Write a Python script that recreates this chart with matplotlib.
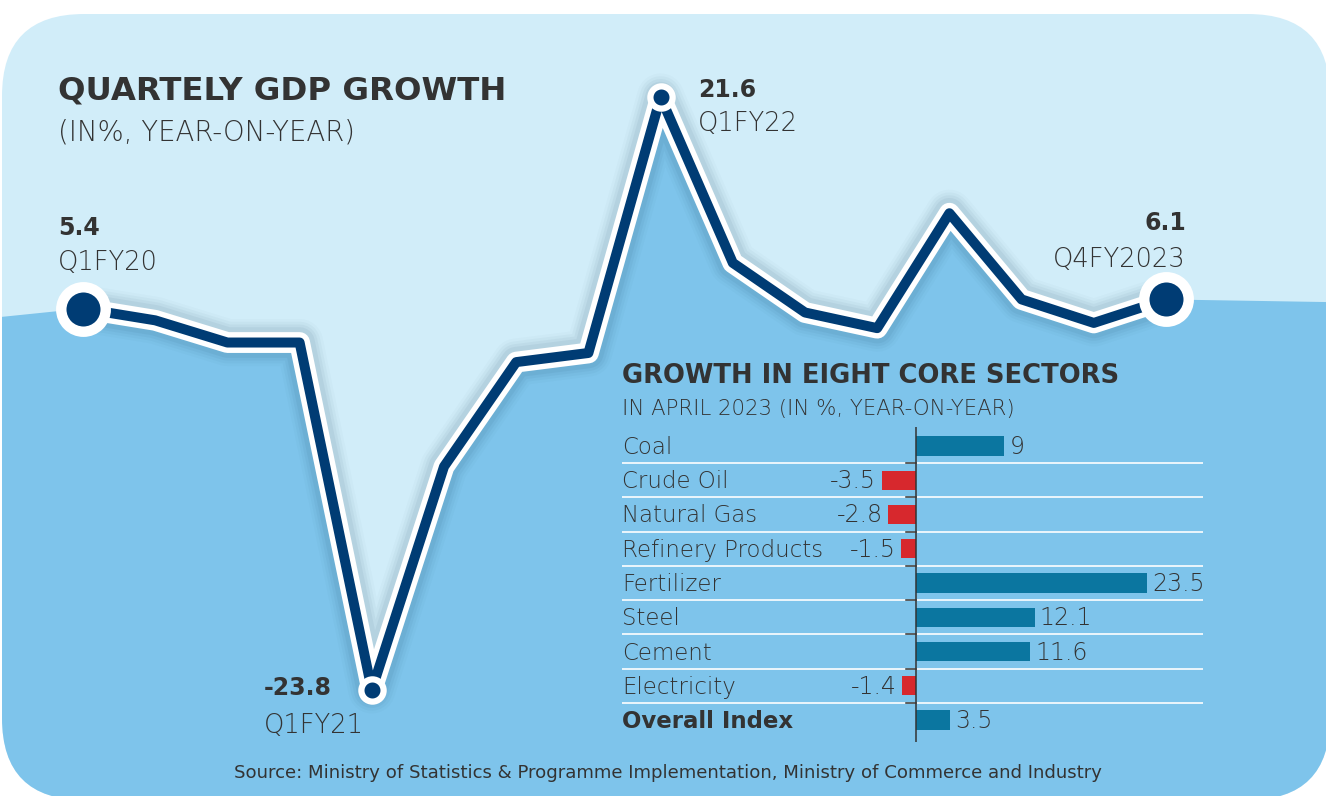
import matplotlib
matplotlib.use("Agg")
import matplotlib.pyplot as plt
from matplotlib.patches import FancyBboxPatch
from matplotlib.transforms import IdentityTransform, blended_transform_factory

# ---------------- data ----------------
quarters = ["Q1FY20", "Q2FY20", "Q3FY20", "Q4FY20", "Q1FY21", "Q2FY21", "Q3FY21", "Q4FY21",
            "Q1FY22", "Q2FY22", "Q3FY22", "Q4FY22", "Q1FY23", "Q2FY23", "Q3FY23", "Q4FY2023"]
gdp_growth = [5.4, 4.5, 2.8, 2.8, -23.8, -6.7, 1.3, 2.0, 21.6, 8.9, 5.1, 3.9, 12.7, 6.1, 4.3, 6.1]
labelled_idx = [0, 4, 8, 15]

sectors = ["Coal", "Crude Oil", "Natural Gas", "Refinery Products", "Fertilizer",
           "Steel", "Cement", "Electricity", "Overall Index"]
sector_growth = [9, -3.5, -2.8, -1.5, 23.5, 12.1, 11.6, -1.4, 3.5]

title = "QUARTELY GDP GROWTH"
subtitle = "(IN%, YEAR-ON-YEAR)"
inset_title = "GROWTH IN EIGHT CORE SECTORS"
inset_subtitle = "IN APRIL 2023 (IN %, YEAR-ON-YEAR)"
source = "Source: Ministry of Statistics & Programme Implementation, Ministry of Commerce and Industry"

# background split level (value on the GDP scale at left / right edges)
horizon_left, horizon_right = 4.75, 5.9

# ---------------- style ----------------
LIGHT = "#d1edf9"
MEDIUM = "#7ec4eb"
NAVY = "#003c74"
TEAL = "#0b76a0"
RED = "#d7282d"
TXT = "#333333"
FONT = ["DejaVu Sans"]
plt.rcParams["font.family"] = FONT

W, H = 1326, 796
fig = plt.figure(figsize=(W / 100, H / 100), dpi=100)
fig.patch.set_facecolor("white")

def fx(px):
    return px / W

def fy(py):
    return 1 - py / H

bg = FancyBboxPatch((2, -4), W + 2, H - 14 + 4, boxstyle="round,pad=0,rounding_size=82",
                    transform=IdentityTransform(), fc=LIGHT, ec="none", zorder=-5)
fig.add_artist(bg)

# ---------------- main line chart ----------------
ax = fig.add_axes([0, 0, 1, 1])
ax.patch.set_visible(False)
ax.axis("off")
step = 72.2            # px per quarter
scale = 13.06          # px per percentage point
x0_px, ytop_val, ytop_px = 83, 21.6, 97
ax.set_xlim(-x0_px / step, 15 + (W - 1166) / step)
ax.set_ylim(ytop_val - (H - ytop_px) / scale, ytop_val + ytop_px / scale)
xl = ax.get_xlim()
yl = ax.get_ylim()
xs = list(range(len(gdp_growth)))

fill_x = [xl[0]] + xs + [xl[1]]
fill_y = [horizon_left] + gdp_growth + [horizon_right]
poly = ax.fill_between(fill_x, fill_y, yl[0], color=MEDIUM, lw=0, zorder=1)
poly.set_clip_path(bg)

# soft shadow
for lw, a in [(34, 0.02), (30, 0.03), (26, 0.04), (22, 0.05)]:
    ax.plot(xs, gdp_growth, color="#0a3050", lw=lw, alpha=a, solid_joinstyle="round",
            solid_capstyle="round", zorder=2)
ax.plot(xs, gdp_growth, color="white", lw=15, solid_joinstyle="round",
        solid_capstyle="round", zorder=3)
ax.plot(xs, gdp_growth, color=NAVY, lw=7.2, solid_joinstyle="round",
        solid_capstyle="round", zorder=4)

ends = [labelled_idx[0], labelled_idx[-1]]
mids = labelled_idx[1:-1]
ax.plot(ends, [gdp_growth[i] for i in ends], "o", ms=32, mew=7.5, mfc=NAVY, mec="white", zorder=5)
ax.plot(mids, [gdp_growth[i] for i in mids], "o", ms=16, mew=4.5, mfc=NAVY, mec="white", zorder=5)

# titles
fig.text(fx(58), fy(100), title, fontsize=23.3, fontweight="bold", color=TXT, va="baseline")
fig.text(fx(58), fy(140), subtitle, fontsize=19.8, fontweight="light", color=TXT, va="baseline")

# point labels (value bold, quarter light)
lab_pos = {0: (58, 235, 270, "left"), 4: (264, 695, 733, "left"),
           8: (698, 97, 131, "left"), 15: (1186, 230, 267, "right")}
for i in labelled_idx:
    px, yv, yq, ha = lab_pos[i]
    fig.text(fx(px), fy(yv), f"{gdp_growth[i]}", fontsize=17, fontweight="bold",
             color=TXT, ha=ha, va="baseline")
    fig.text(fx(px), fy(yq), quarters[i], fontsize=18.5, fontweight="light",
             color=TXT, ha=ha, va="baseline")

# ---------------- inset bar chart ----------------
row_px = 34.25
bar_scale = 9.83
ins_l, ins_r, ins_t, ins_b = 622, 1203, 427, 742
zero_px = 916
ax2 = fig.add_axes([fx(ins_l), fy(ins_b), (ins_r - ins_l) / W, (ins_b - ins_t) / H])
ax2.patch.set_visible(False)
ax2.axis("off")
ax2.set_xlim(-(zero_px - ins_l) / bar_scale, (ins_r - zero_px) / bar_scale)
ax2.set_ylim(len(sectors) - 1 + (ins_b - 720) / row_px, -(446 - ins_t) / row_px)
rows = list(range(len(sectors)))
colors = [TEAL if v > 0 else RED for v in sector_growth]
ax2.barh(rows, sector_growth, height=0.555, color=colors, zorder=3)

for r in rows[:-1]:
    ax2.axhline(r + 0.5, color="white", lw=1.4, alpha=0.85, zorder=1)
    ax2.plot([-1.0, 0], [r + 0.5, r + 0.5], color=TXT, lw=1.1, zorder=4)
ax2.axvline(0, color=TXT, lw=1.1, zorder=4)

tr = blended_transform_factory(ax2.transAxes, ax2.transData)
base_off = 8 / row_px
for r, (name, v) in enumerate(zip(sectors, sector_growth)):
    bold = name == "Overall Index"
    ax2.text(0, r + base_off, name, transform=tr, fontsize=16.5,
             fontweight="bold" if bold else "light", color=TXT, va="baseline", ha="left")
    lbl = f"{v:g}"
    if v >= 0:
        ax2.text(v + 0.5, r + base_off, lbl, fontsize=17, fontweight="light", color=TXT,
                 ha="left", va="baseline")
    else:
        ax2.text(v - 0.6, r + base_off, lbl, fontsize=17, fontweight="light", color=TXT,
                 ha="right", va="baseline")

fig.text(fx(622), fy(383), inset_title, fontsize=18.6, fontweight="bold", color=TXT, va="baseline")
fig.text(fx(622), fy(415), inset_subtitle, fontsize=15.3, fontweight="light", color=TXT, va="baseline")

fig.text(fx(668), fy(778), source, fontsize=13.1, color=TXT, ha="center", va="baseline")

fig.savefig("out.png", dpi=100)
